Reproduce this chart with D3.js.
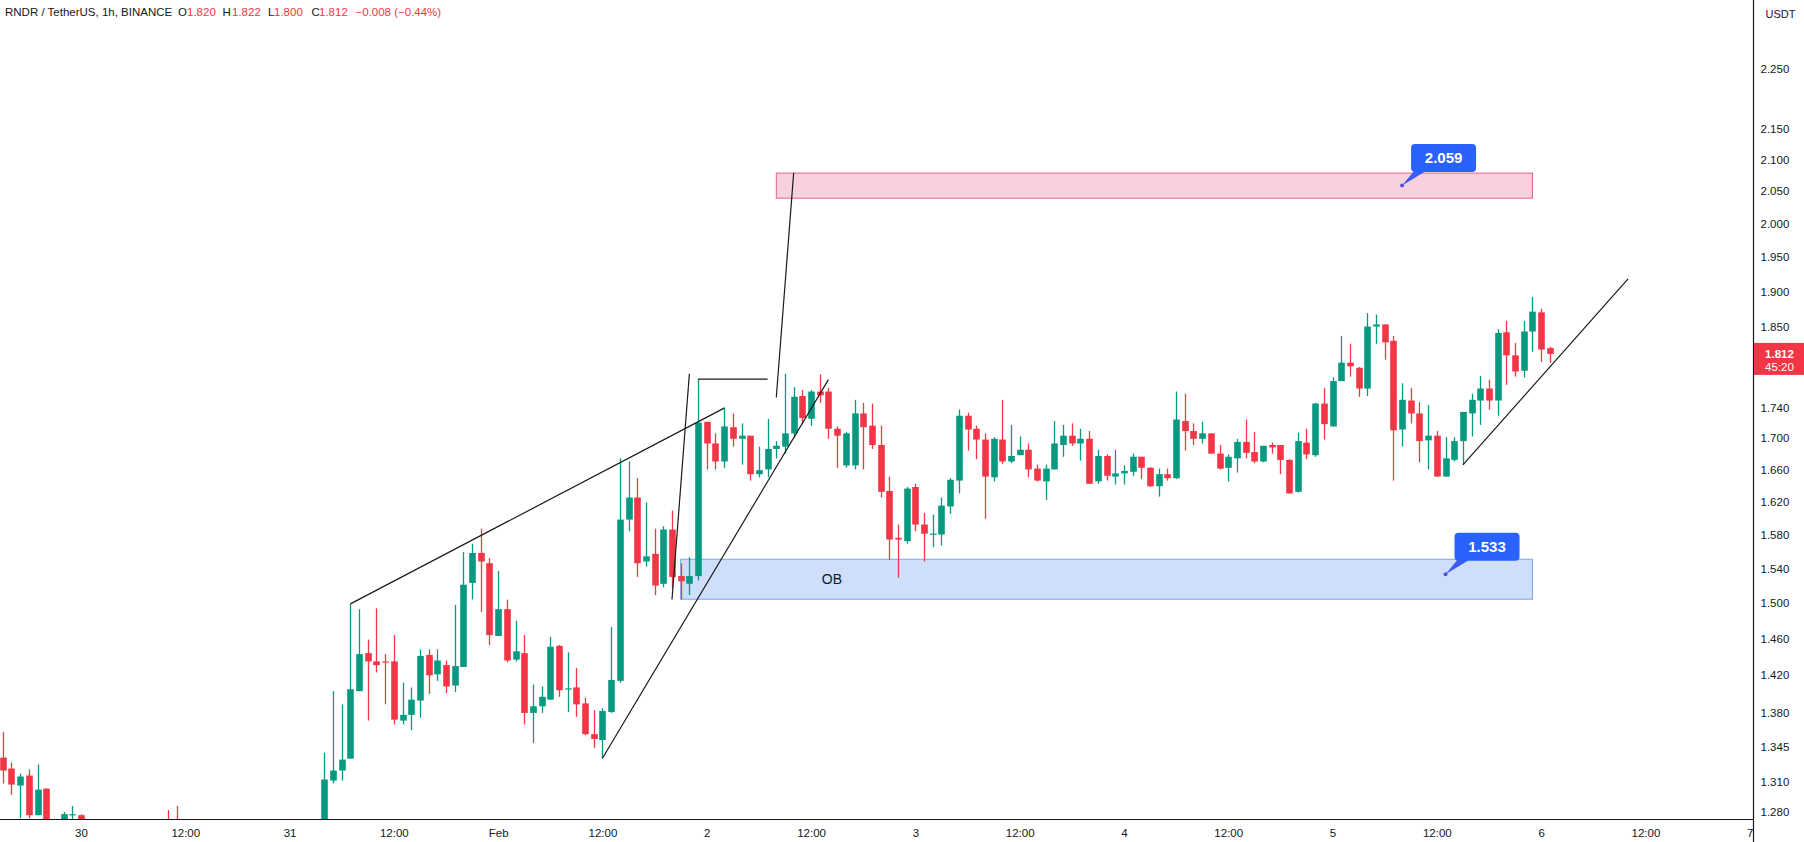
<!DOCTYPE html>
<html><head><meta charset="utf-8">
<script src="https://cdn.jsdelivr.net/npm/d3@7"></script>
<style>
html,body{margin:0;padding:0;background:#fff;}
svg{display:block;font-family:"Liberation Sans",Arial,sans-serif;}
</style></head><body>
<svg id="chart" width="1804" height="842"></svg>
<script>
// ---------------- DATA ----------------
const symbolTitle = "RNDR / TetherUS, 1h, BINANCE";
const firstCandle = "2023-01-29T15:00:00Z";   // hourly candles
const opens = [
1.334,1.323,1.306,1.316,1.277,1.303,1.262,1.258,1.277,1.277,
1.266,1.259,1.254,1.257,1.261,1.256,1.251,1.255,1.259,1.264,1.262,1.259,1.253,1.247,1.250,1.246,1.243,1.248,1.252,1.249,1.245,1.247,1.251,1.254,1.256,1.253,1.258,1.262,
1.311,1.321,1.333,1.403,1.444,1.435,1.435,1.435,1.372,1.378,1.393,1.442,1.421,1.431,1.409,1.429,1.523,1.558,1.546,1.463,1.493,1.437,1.444,1.380,1.387,1.394,1.452,1.405,1.407,1.390,1.358,1.352,1.381,1.414,1.598,1.625,1.548,
1.557,1.522,1.586,1.531,1.522,1.531,1.721,1.693,1.670,1.714,
1.699,1.703,1.654,1.660,1.686,1.689,1.706,1.755,1.725,1.761,
1.761,1.712,1.665,1.665,1.732,1.716,1.691,1.633,1.576,1.572,
1.638,1.592,1.580,1.580,1.614,1.646,1.729,1.712,1.698,1.650,
1.698,1.670,1.678,1.685,1.661,1.645,1.660,1.691,1.703,1.693,
1.699,1.645,1.677,1.651,1.655,1.657,1.676,1.662,1.639,1.654,
1.649,1.722,1.709,1.699,1.706,1.680,1.662,1.674,1.695,1.682,
1.670,1.691,1.691,1.672,1.632,1.694,1.678,1.745,1.715,1.775,
1.800,1.793,1.765,1.850,1.853,1.830,1.711,1.749,1.732,1.697,
1.703,1.651,1.672,1.696,1.732,1.749,1.765,1.749,1.842,1.810,
1.789,1.843,1.870,1.820];
const highs = [
1.360,1.329,1.318,1.322,1.327,1.303,1.267,1.280,1.286,1.278,
1.269,1.264,1.261,1.265,1.266,1.262,1.258,1.263,1.268,1.282,1.286,1.265,1.259,1.255,1.258,1.252,1.250,1.256,1.259,1.254,1.251,1.255,1.258,1.262,1.264,1.261,1.266,1.339,
1.403,1.389,1.499,1.493,1.459,1.494,1.443,1.464,1.412,1.407,1.448,1.448,1.448,1.436,1.498,1.559,1.569,1.587,1.552,1.537,1.504,1.480,1.464,1.410,1.408,1.462,1.453,1.445,1.428,1.396,1.383,1.385,1.473,1.674,1.670,1.649,1.619,
1.587,1.590,1.609,1.546,1.553,1.778,1.721,1.706,1.740,1.732,
1.719,1.703,1.689,1.725,1.696,1.785,1.767,1.763,1.763,1.784,
1.766,1.715,1.708,1.750,1.746,1.745,1.716,1.651,1.592,1.638,
1.642,1.606,1.604,1.625,1.649,1.737,1.733,1.716,1.706,1.701,
1.750,1.717,1.702,1.693,1.666,1.666,1.722,1.717,1.719,1.712,
1.709,1.685,1.679,1.685,1.665,1.680,1.676,1.663,1.661,1.661,
1.761,1.758,1.719,1.721,1.706,1.691,1.679,1.699,1.724,1.708,
1.690,1.694,1.691,1.673,1.707,1.712,1.746,1.766,1.780,1.837,
1.826,1.794,1.869,1.867,1.853,1.837,1.772,1.766,1.747,1.743,
1.709,1.701,1.701,1.734,1.758,1.782,1.777,1.846,1.858,1.827,
1.858,1.892,1.875,1.822];
const lows = [
1.308,1.297,1.274,1.274,1.277,1.255,1.250,1.255,1.268,1.262,
1.255,1.250,1.248,1.252,1.254,1.247,1.244,1.250,1.255,1.258,1.256,1.249,1.243,1.240,1.244,1.238,1.236,1.242,1.246,1.241,1.238,1.243,1.246,1.249,1.250,1.248,1.254,1.258,
1.308,1.311,1.333,1.403,1.372,1.423,1.389,1.368,1.368,1.362,1.375,1.400,1.414,1.401,1.402,1.429,1.504,1.490,1.453,1.463,1.434,1.435,1.368,1.349,1.380,1.394,1.397,1.381,1.376,1.357,1.344,1.333,1.380,1.412,1.584,1.530,1.542,
1.509,1.518,1.517,1.504,1.509,1.526,1.660,1.660,1.662,1.689,
1.666,1.646,1.650,1.650,1.674,1.680,1.700,1.718,1.716,1.746,
1.699,1.662,1.662,1.660,1.660,1.686,1.625,1.550,1.529,1.569,
1.584,1.548,1.565,1.567,1.605,1.630,1.684,1.673,1.599,1.645,
1.667,1.668,1.678,1.650,1.645,1.622,1.660,1.676,1.690,1.671,
1.642,1.642,1.646,1.641,1.641,1.652,1.648,1.638,1.626,1.646,
1.648,1.684,1.691,1.693,1.680,1.660,1.645,1.656,1.674,1.668,
1.669,1.680,1.654,1.630,1.631,1.673,1.676,1.698,1.715,1.775,
1.781,1.754,1.755,1.826,1.804,1.646,1.689,1.719,1.669,1.660,
1.651,1.651,1.670,1.666,1.702,1.717,1.737,1.729,1.770,1.781,
1.780,1.815,1.801,1.800];
const closes = [
1.321,1.307,1.315,1.277,1.302,1.262,1.258,1.278,1.278,1.266,
1.259,1.254,1.257,1.261,1.256,1.251,1.255,1.259,1.264,1.262,1.259,1.253,1.247,1.250,1.246,1.243,1.248,1.252,1.249,1.245,1.247,1.251,1.254,1.256,1.253,1.258,1.262,1.312,
1.321,1.332,1.405,1.443,1.435,1.431,1.434,1.373,1.378,1.394,1.441,1.420,1.436,1.408,1.430,1.521,1.558,1.548,1.464,1.493,1.436,1.446,1.380,1.387,1.397,1.451,1.404,1.406,1.389,1.358,1.353,1.382,1.415,1.598,1.625,1.546,1.554,
1.520,1.586,1.530,1.525,1.531,1.720,1.693,1.670,1.715,1.699,
1.703,1.654,1.659,1.686,1.690,1.706,1.754,1.726,1.761,1.756,
1.712,1.703,1.706,1.732,1.714,1.691,1.632,1.574,1.574,1.636,
1.592,1.581,1.581,1.615,1.647,1.729,1.711,1.698,1.651,1.699,
1.670,1.677,1.685,1.660,1.646,1.661,1.693,1.703,1.693,1.699,
1.642,1.677,1.652,1.655,1.658,1.676,1.662,1.639,1.654,1.649,
1.724,1.709,1.699,1.706,1.680,1.661,1.676,1.695,1.681,1.670,
1.690,1.688,1.672,1.630,1.696,1.679,1.745,1.718,1.775,1.800,
1.795,1.765,1.850,1.853,1.828,1.710,1.750,1.732,1.696,1.703,
1.651,1.674,1.696,1.734,1.750,1.765,1.749,1.841,1.810,1.788,
1.843,1.871,1.818,1.812];

const priceTicks = [2.250,2.150,2.100,2.050,2.000,1.950,1.900,1.850,1.740,1.700,1.660,1.620,1.580,1.540,1.500,1.460,1.420,1.380,1.345,1.310,1.280];
const timeTickLabels = ["30","12:00","31","12:00","Feb","12:00","2","12:00","3","12:00","4","12:00","5","12:00","6","12:00","7"];
const timeTickStart = "2023-01-30T00:00:00Z";
const priceUnit = "USDT";
const countdown = "45:20";
const changeText = "\u22120.008 (\u22120.44%)";

// drawn annotations (time, price)
const trendLines = [
  [["2023-01-31T07:00Z",1.499],["2023-02-02T02:00Z",1.739]],
  [["2023-02-01T12:00Z",1.3334],["2023-02-02T14:00Z",1.777]],
  [["2023-02-01T20:00Z",1.504],["2023-02-01T22:00Z",1.785]],
  [["2023-02-01T23:00Z",1.7776],["2023-02-02T07:00Z",1.7776]],
  [["2023-02-02T08:00Z",1.753],["2023-02-02T10:00Z",2.079]],
  [["2023-02-05T15:00Z",1.6656],["2023-02-06T10:00Z",1.918]]
];
const zoneNames = ["supply","OB"];
const zoneStart = ["2023-02-02T08:00Z","2023-02-01T21:00Z"];
const zoneEnd = ["2023-02-05T23:00Z","2023-02-05T23:00Z"];
const zoneTop = [2.0784,1.5506];
const zoneBottom = [2.0392,1.5043];
const zoneText = ["","OB"];
const zoneTextTime = ["","2023-02-02T14:24Z"];
const calloutTimes = ["2023-02-05T08:00Z","2023-02-05T13:00Z"];
const calloutPrices = [2.059,1.533];

// ---------------- CHART ----------------
const W = 1804, H = 842, plotR = 1753.5, plotB = 819.5;
const svg = d3.select("#chart");
const UP = "#089981", DOWN = "#f23645", TXT = "#131722";

const x = d3.scaleUtc()
  .domain([new Date("2023-01-29T14:41:00Z"), new Date("2023-02-07T00:26:00Z")])
  .range([0, plotR]);
const y = d3.scaleLog().domain([1.28, 2.25]).range([812.1, 68.5]);

const candles = opens.map((o,i)=>({
  t: d3.utcHour.offset(new Date(firstCandle), i),
  o, h: highs[i], l: lows[i], c: closes[i]
}));

svg.append("defs").append("clipPath").attr("id","plot")
  .append("rect").attr("x",0).attr("y",0).attr("width",plotR).attr("height",plotB);

const plot = svg.append("g").attr("clip-path","url(#plot)");

// zones
zoneNames.forEach((n,i)=>{
  const x0 = x(new Date(zoneStart[i])), x1 = x(new Date(zoneEnd[i]));
  const y0 = y(zoneTop[i]), y1 = y(zoneBottom[i]);
  plot.append("rect").attr("x",x0).attr("y",y0).attr("width",x1-x0).attr("height",y1-y0)
    .attr("fill", n==="OB" ? "#cfdffb" : "#f8d0de")
    .attr("stroke", n==="OB" ? "#7ea6ee" : "#e2628f").attr("stroke-width",1);
  if (zoneText[i]) {
    plot.append("text").attr("x", x(new Date(zoneTextTime[i]))).attr("y", y(Math.sqrt(zoneTop[i]*zoneBottom[i])))
      .attr("dy","0.35em").attr("text-anchor","middle").attr("font-size",14).attr("fill",TXT)
      .text(zoneText[i]);
  }
});

// candles
const bw = 6.6;
const g = plot.append("g");
candles.forEach(d=>{
  const cx = Math.round(x(d.t)) + 0.5;
  const col = d.c >= d.o ? UP : DOWN;
  g.append("line").attr("x1",cx).attr("x2",cx).attr("y1",y(d.h)).attr("y2",y(d.l))
    .attr("stroke",col).attr("stroke-width",1.3);
  const top = y(Math.max(d.o,d.c)), bot = y(Math.min(d.o,d.c));
  g.append("rect").attr("x",cx-bw/2).attr("y",top).attr("width",bw).attr("height",Math.max(1.2,bot-top))
    .attr("fill",col);
});

// trend lines
trendLines.forEach(seg=>{
  plot.append("line")
    .attr("x1",x(new Date(seg[0][0]))).attr("y1",y(seg[0][1]))
    .attr("x2",x(new Date(seg[1][0]))).attr("y2",y(seg[1][1]))
    .attr("stroke","#1a1a1a").attr("stroke-width",1.2);
});

// callouts
calloutPrices.forEach((p,i)=>{
  const ax = x(new Date(calloutTimes[i])), ay = y(p);
  const bx = ax + 9, bwid = 65, bh = 28, by = ay - 13.5 - bh;
  const cg = svg.append("g");
  cg.append("path").attr("d",`M${ax},${ay} L${bx+3},${by+bh-1} L${bx+15},${by+bh-1} Z`).attr("fill","#3a5cf0");
  cg.append("circle").attr("cx",ax).attr("cy",ay).attr("r",2).attr("fill","#4a55d8");
  cg.append("rect").attr("x",bx).attr("y",by).attr("width",bwid).attr("height",bh).attr("rx",4)
    .attr("fill","#2962ff");
  cg.append("text").attr("x",bx+bwid/2).attr("y",by+bh/2).attr("dy","0.36em").attr("text-anchor","middle")
    .attr("font-size",15).attr("font-weight","bold").attr("fill","#fff").text(d3.format(".3f")(p));
});

// axes
svg.append("line").attr("x1",0).attr("x2",plotR).attr("y1",plotB).attr("y2",plotB)
  .attr("stroke",TXT).attr("stroke-width",1.2);
svg.append("line").attr("x1",plotR).attr("x2",plotR).attr("y1",0).attr("y2",H)
  .attr("stroke",TXT).attr("stroke-width",1.2);

const tickTimes = timeTickLabels.map((_,i)=>d3.utcHour.offset(new Date(timeTickStart), i*12));
const xAxis = d3.axisBottom(x).tickValues(tickTimes).tickSize(0)
  .tickFormat((d,i)=>timeTickLabels[i]);
const xg = svg.append("g").attr("transform",`translate(0,${plotB+6})`).call(xAxis);
xg.select(".domain").remove();
xg.selectAll("text").attr("font-size",11.5).attr("fill",TXT).attr("font-family",'"Liberation Sans",Arial,sans-serif');

const yAxis = d3.axisRight(y).tickValues(priceTicks).tickSize(0).tickFormat(d3.format(".3f"));
const yg = svg.append("g").attr("transform",`translate(${plotR+4},0)`).call(yAxis);
yg.select(".domain").remove();
yg.selectAll("text").attr("font-size",11.5).attr("fill",TXT).attr("font-family",'"Liberation Sans",Arial,sans-serif');

svg.append("text").attr("x",plotR+12).attr("y",18).attr("font-size",11).attr("fill",TXT).text(priceUnit);

// last price label
const last = candles[candles.length-1];
const ly = y(last.c);
const lcol = last.c >= last.o ? UP : DOWN;
svg.append("rect").attr("x",plotR+0.5).attr("y",ly-11).attr("width",W-plotR).attr("height",32).attr("fill",lcol);
svg.append("text").attr("x",plotR+26).attr("y",ly+4).attr("text-anchor","middle").attr("font-size",11.5)
  .attr("font-weight","bold").attr("fill","#fff").text(d3.format(".3f")(last.c));
svg.append("text").attr("x",plotR+26).attr("y",ly+17.5).attr("text-anchor","middle").attr("font-size",11.5)
  .attr("fill","#fff").text(countdown);

// header legend
const hdr = svg.append("text").attr("y",16).attr("font-size",11.5).attr("fill",TXT);
const f3 = d3.format(".3f");
const pieces = [
  {t:symbolTitle, c:TXT, x:5},
  {t:"O", c:TXT, x:178}, {t:f3(last.o), c:lcol, x:187},
  {t:"H", c:TXT, x:222.5}, {t:f3(last.h), c:lcol, x:232},
  {t:"L", c:TXT, x:268}, {t:f3(last.l), c:lcol, x:274},
  {t:"C", c:TXT, x:311.5}, {t:f3(last.c), c:lcol, x:319},
  {t:changeText, c:lcol, x:355.5}
];
pieces.forEach(p=>hdr.append("tspan").attr("x",p.x).attr("fill",p.c).text(p.t));
</script>
</body></html>
